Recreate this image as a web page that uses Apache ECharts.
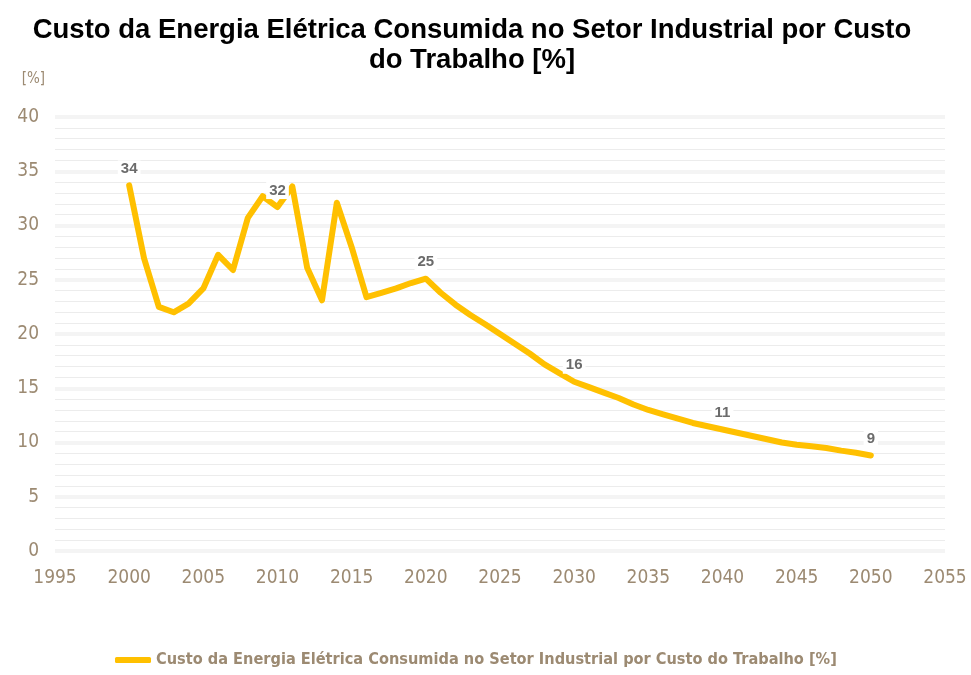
<!DOCTYPE html>
<html>
<head>
<meta charset="utf-8">
<script src="https://cdn.jsdelivr.net/npm/echarts@6/dist/echarts.min.js"></script>
<style>
  html, body { margin: 0; padding: 0; background: #fff; }
  #chart { width: 971px; height: 675px; }
</style>
</head>
<body>
<div id="chart"></div>
<script>
// Annual series, 2000–2050
const years = [];
for (let y = 2000; y <= 2050; y++) years.push(y);

const values = [
  33.7, 27.0, 22.5, 22.0, 22.8, 24.2, 27.3, 25.9, 30.7, 32.7, // 2000-2009
  31.7, 33.6, 26.1, 23.1, 32.1, 28.0, 23.4, 23.8, 24.2, 24.7, // 2010-2019
  25.1, 23.8, 22.7, 21.75, 20.9, 20.0, 19.1, 18.2, 17.2, 16.4, // 2020-2029
  15.6, 15.1, 14.6, 14.1, 13.5, 13.0, 12.6, 12.2, 11.8, 11.5, // 2030-2039
  11.2, 10.9, 10.6, 10.3, 10.0, 9.8, 9.65, 9.5, 9.25, 9.05,   // 2040-2049
  8.8                                                         // 2050
];

// Years whose value is printed above the line
const labelYears = [2000, 2010, 2020, 2030, 2040, 2050];

const seriesName = 'Custo da Energia Elétrica Consumida no Setor Industrial por Custo do Trabalho [%]';
const axisColor = '#9c8a72';
const narrow = '"Liberation Sans Narrow", "DejaVu Sans Condensed", "Roboto Condensed", sans-serif';

const valueLabel = {
  show: true,
  position: 'top',
  distance: 8,
  fontFamily: '"Liberation Sans", Arial, sans-serif',
  fontWeight: 'bold',
  fontSize: 15,
  color: '#6b6b6b',
  backgroundColor: '#fff',
  padding: [1, 3],
  formatter: p => String(Math.round(p.value[1]))
};

const seriesData = years.map((y, i) => {
  const item = { value: [y, values[i]] };
  if (labelYears.includes(y)) item.label = valueLabel;
  return item;
});

const chart = echarts.init(document.getElementById('chart'));
chart.setOption({
  animation: false,
  title: {
    text: 'Custo da Energia Elétrica Consumida no Setor Industrial por Custo\ndo Trabalho [%]',
    left: 467,
    textAlign: 'center',
    top: 10,
    textStyle: {
      fontFamily: '"Liberation Sans", Arial, sans-serif',
      fontWeight: 'bold',
      fontSize: 27.5,
      lineHeight: 30,
      color: '#000'
    }
  },
  legend: {
    bottom: 2,
    left: 110,
    icon: 'roundRect',
    itemWidth: 36,
    itemHeight: 6,
    itemGap: 4,
    textStyle: {
      fontFamily: narrow,
      fontWeight: 'bold',
      fontSize: 16.2,
      color: axisColor
    },
    data: [seriesName]
  },
  grid: { left: 55, right: 26, top: 117, bottom: 124, containLabel: false },
  xAxis: {
    type: 'value',
    min: 1995,
    max: 2055,
    interval: 5,
    axisLine: { show: false },
    axisTick: { show: false },
    splitLine: { show: false },
    axisLabel: {
      margin: 18,
      fontFamily: narrow,
      fontSize: 19,
      color: axisColor,
      formatter: v => String(v)
    }
  },
  yAxis: {
    type: 'value',
    min: 0,
    max: 40,
    interval: 5,
    name: '[%]',
    nameLocation: 'end',
    nameGap: 30,
    nameTextStyle: {
      fontFamily: narrow,
      fontSize: 15,
      color: axisColor,
      align: 'right',
      padding: [0, 10, 0, 0]
    },
    axisLine: { show: false },
    axisTick: { show: false },
    axisLabel: {
      margin: 16,
      fontFamily: narrow,
      fontSize: 19,
      color: axisColor
    },
    splitLine: { lineStyle: { color: '#f4f4f4', width: 4 } },
    minorTick: { show: false, splitNumber: 5 },
    minorSplitLine: { show: true, lineStyle: { color: '#ececec', width: 1 } }
  },
  series: [{
    name: seriesName,
    type: 'line',
    data: seriesData,
    showSymbol: true,
    symbol: 'circle',
    symbolSize: 0,
    lineStyle: { color: '#ffc000', width: 6, cap: 'round', join: 'round' },
    itemStyle: { color: '#ffc000' },
    label: { show: false },
    labelLayout: { hideOverlap: false }
  }]
});
</script>
</body>
</html>
